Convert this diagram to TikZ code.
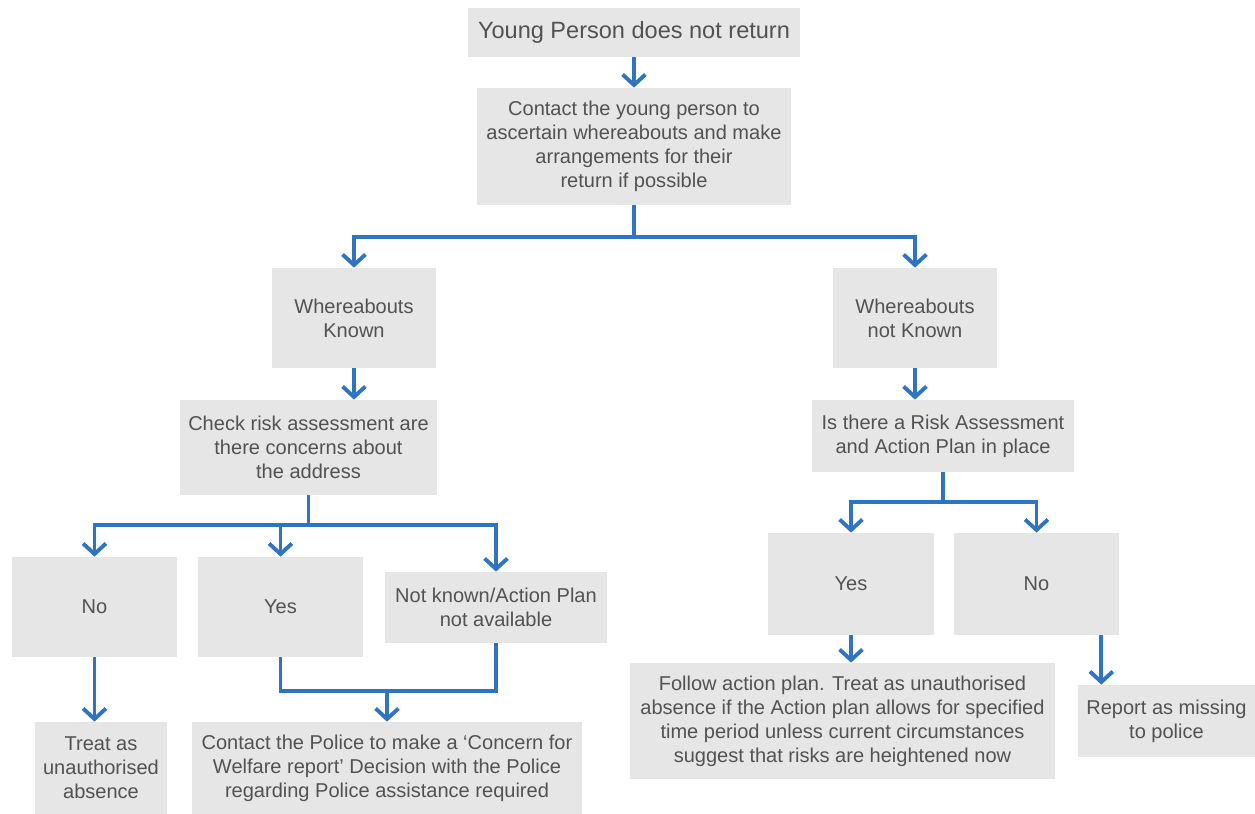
\documentclass[tikz,border=0pt]{standalone}
\usepackage{fontspec}
\setmainfont{Liberation Sans}
\usepackage{tikz}
\usetikzlibrary{arrows.meta, positioning, calc}

\definecolor{flowblue}{RGB}{46,116,192}
\definecolor{boxgrey}{RGB}{230,230,230}
\definecolor{textgrey}{RGB}{82,82,82}

\begin{document}
\begin{tikzpicture}[
  x=0.02cm, y=-0.02cm,
  box/.style={rectangle, fill=boxgrey, inner sep=2pt,
              font=\fontsize{11.4}{13.7}\selectfont, align=center, text=textgrey},
  arr/.style={-{Straight Barb[length=6pt,width=13pt]}, line width=2.2pt, flowblue},
  link/.style={line width=2.2pt, flowblue}
]
  \useasboundingbox (0,0) rectangle (1255,814);

  % top of the chart
  \node[box, minimum width=6.64cm, minimum height=0.98cm,
        font=\fontsize{13.4}{16}\selectfont] (ypnr) at (634,32.5) {Young Person does not return};
  \node[box, minimum width=6.28cm, minimum height=2.34cm] (contact) at (634,146.5)
    {Contact the young person to\\ascertain whereabouts and make\\arrangements for their\\return if possible};

  % known / not known
  \node[box, minimum width=3.28cm, minimum height=2cm] (wk)  at (354,318) {Whereabouts\\Known};
  \node[box, minimum width=3.3cm,  minimum height=2cm] (wnk) at (915,318) {Whereabouts\\not Known};
  \node[box, minimum width=5.16cm, minimum height=1.9cm] (check) at (308.5,447.5)
    {Check risk assessment are\\there concerns about\\the address};
  \node[box, minimum width=5.24cm, minimum height=1.44cm] (isthere) at (943,436)
    {Is there a Risk Assessment\\and Action Plan in place};

  % left branch
  \node[box, minimum width=3.3cm, minimum height=2cm] (no1)  at (94.5,607)  {No};
  \node[box, minimum width=3.3cm, minimum height=2cm] (yes1) at (280.5,607) {Yes};
  \node[box, minimum width=4.44cm, minimum height=1.42cm] (nk) at (496,607.5)
    {Not known/Action Plan\\not available};
  \node[box, minimum width=2.64cm, minimum height=1.84cm] (treat) at (101,768)
    {Treat as\\unauthorised\\absence};
  \node[box, minimum width=7.8cm, minimum height=1.84cm] (police) at (387,768)
    {Contact the Police to make a ‘Concern for\\Welfare report’ Decision with the Police\\regarding Police assistance required};

  % right branch
  \node[box, minimum width=3.32cm, minimum height=2.04cm] (yes2) at (851,584)    {Yes};
  \node[box, minimum width=3.3cm,  minimum height=2.04cm] (no2)  at (1036.5,584) {No};
  \node[box, minimum width=8.5cm, minimum height=2.32cm] (follow) at (842.5,721)
    {Follow action plan. Treat as unauthorised\\absence if the Action plan allows for specified\\time period unless current circumstances\\suggest that risks are heightened now};
  \node[box, minimum width=3.56cm, minimum height=1.44cm] (report) at (1166.5,721)
    {Report as missing\\to police};

  % junctions
  \coordinate (splitA) at (634,237);
  \coordinate (splitB) at ($(check.south)+(0,30)$);
  \coordinate (splitD) at ($(isthere.south)+(0,30)$);
  \coordinate (joinC)  at (387,691);
  \coordinate (tapE)   at ([xshift=-0.36cm]no2.south east);

  \draw[arr]  (ypnr.south) -- (contact.north);
  \draw[link] (contact.south) -- (splitA);
  \draw[arr]  (splitA) -| (wk.north);
  \draw[arr]  (splitA) -| (wnk.north);

  \draw[arr]  (wk.south) -- (wk.south |- check.north);
  \draw[arr]  (wnk.south) -- (wnk.south |- isthere.north);

  \draw[link] (check.south) -- (splitB);
  \draw[arr]  (splitB) -| (no1.north);
  \draw[arr]  (splitB) -| (yes1.north);
  \draw[arr]  (splitB) -| (nk.north);

  \draw[arr]  (no1.south) -- (no1.south |- treat.north);
  \draw[link] (yes1.south) |- (nk.south |- joinC) -- (nk.south);
  \draw[arr]  (joinC) -- (police.north);

  \draw[link] (isthere.south) -- (splitD);
  \draw[arr]  (splitD) -| (yes2.north);
  \draw[arr]  (splitD) -| (no2.north);

  \draw[arr]  (yes2.south) -- (yes2.south |- follow.north);
  \draw[arr]  (tapE) -- (tapE |- report.north);
\end{tikzpicture}
\end{document}
